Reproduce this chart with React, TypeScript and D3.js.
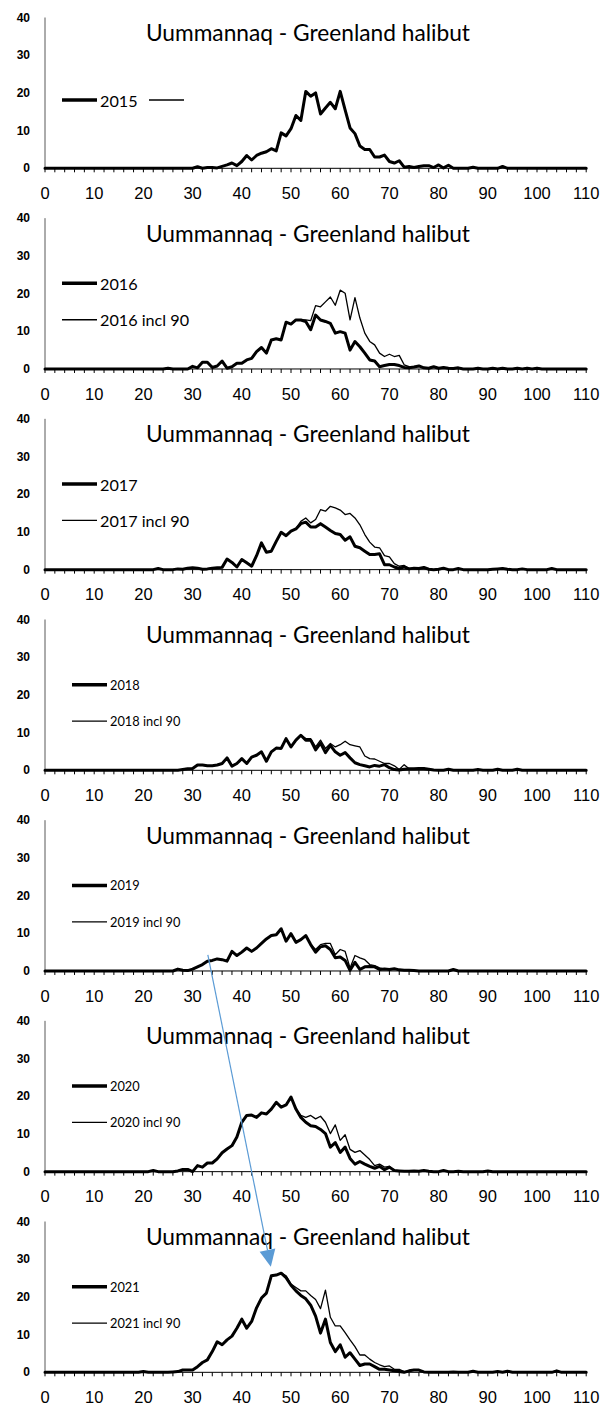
import * as d3 from 'd3';

// length classes (cm) in the arrays start at 20; anything outside is 0
const START = 20;

const years = ['2015', '2016', '2017', '2018', '2019', '2020', '2021'];
const titleText = 'Uummannaq - Greenland halibut';
const xTickLabels = [0, 10, 20, 30, 40, 50, 60, 70, 80, 90, 100, 110];
const yTickLabels = [0, 10, 20, 30, 40];

const s2015 = [
  0, 0, 0, 0, 0, 0, 0, 0, 0, 0,
  0, 0.4, 0, 0.2, 0.2, 0.1, 0.5, 0.9, 1.4, 0.7,
  1.8, 3.4, 2.2, 3.4, 4.0, 4.4, 5.2, 4.6, 9.4, 8.6,
  10.5, 14.0, 12.7, 20.4, 19.1, 20.0, 14.4, 16.0, 17.5, 15.8,
  20.4, 15.5, 10.7, 9.2, 5.9, 5.0, 5.0, 3.0, 3.0, 3.5,
  1.8, 1.4, 2.0, 0.3, 0.5, 0.2, 0.5, 0.7, 0.7, 0.2,
  0.9, 0.1, 0.8, 0, 0, 0, 0, 0.3, 0, 0,
  0, 0, 0, 0.5,
];

const s2016 = [
  0, 0, 0, 0, 0, 0.2, 0, 0, 0, 0,
  0.7, 0.3, 1.8, 1.8, 0.4, 0.8, 2.1, 0.2, 0.6, 1.5,
  1.5, 2.4, 2.8, 4.6, 5.7, 4.2, 7.7, 8.0, 7.7, 12.4,
  11.9, 13.0, 13.0, 12.6, 10.4, 14.3, 13.0, 12.6, 12.1, 9.5,
  9.9, 9.5, 5.0, 7.3, 5.9, 4.2, 2.4, 2.1, 0.6, 0.9,
  1.2, 1.2, 0.9, 0.4, 0.3, 0.5, 0.8, 0.3, 0.2, 0.6,
  0.2, 0.4, 0.2, 0.1, 0.3, 0, 0, 0, 0.2, 0,
  0, 0.2, 0, 0.2, 0, 0, 0.2, 0, 0.2, 0,
  0.2,
];
const s2016incl = [
  0, 0, 0, 0, 0, 0.2, 0, 0, 0, 0,
  0.7, 0.3, 1.8, 1.8, 0.4, 0.8, 2.1, 0.2, 0.6, 1.5,
  1.5, 2.4, 2.8, 4.6, 5.7, 4.2, 7.7, 8.0, 7.7, 12.4,
  11.9, 13.0, 13.0, 13.0, 12.8, 16.8, 16.5, 17.8, 19.1, 16.9,
  20.9, 20.1, 13.0, 18.9, 13.5, 9.5, 7.3, 6.4, 4.2, 3.3,
  3.9, 3.3, 3.6, 1.1, 0.6, 0.5, 0.8, 0.3, 0.2, 0.6,
  0.2, 0.4, 0.2, 0.1, 0.3, 0, 0, 0, 0.2, 0,
  0, 0.2, 0, 0.2, 0, 0, 0.2, 0, 0.2, 0,
  0.2,
];

const s2017 = [
  0, 0, 0, 0.3, 0, 0, 0, 0.2, 0.1, 0.4,
  0.5, 0.4, 0.1, 0.2, 0.4, 0.5, 0.6, 2.8, 1.9, 0.7,
  2.7, 1.8, 0.9, 3.7, 7.1, 4.6, 4.9, 7.5, 9.9, 9.0,
  10.2, 10.8, 12.2, 12.6, 11.3, 11.3, 12.2, 11.3, 10.4, 9.6,
  9.3, 7.8, 8.7, 6.2, 5.8, 4.9, 4.0, 4.0, 4.2, 1.3,
  1.3, 0.7, 0.3, 0.7, 0.2, 0.4, 0.3, 0.6, 0.1, 0,
  0.1, 0.4, 0, 0, 0.3, 0, 0, 0, 0, 0,
  0, 0.1, 0.2, 0.3, 0.1, 0, 0, 0.2, 0, 0,
  0, 0, 0, 0.3,
];
const s2017incl = [
  0, 0, 0, 0.3, 0, 0, 0, 0.2, 0.1, 0.4,
  0.5, 0.4, 0.1, 0.2, 0.4, 0.5, 0.6, 2.8, 1.9, 0.7,
  2.7, 1.8, 0.9, 3.7, 7.1, 4.6, 4.9, 7.5, 9.9, 9.0,
  10.2, 10.8, 12.8, 13.7, 12.4, 13.3, 15.9, 15.5, 16.8, 16.4,
  15.8, 14.6, 14.9, 13.7, 11.9, 9.3, 7.3, 6.0, 5.8, 3.7,
  3.4, 1.6, 0.9, 1.1, 0.3, 0.4, 0.3, 0.6, 0.1, 0,
  0.1, 0.4, 0, 0, 0.3, 0, 0, 0, 0, 0,
  0, 0.1, 0.2, 0.3, 0.1, 0, 0, 0.2, 0, 0,
  0, 0, 0, 0.3,
];

const s2018 = [
  0, 0, 0, 0, 0, 0, 0, 0, 0.2, 0.4,
  0.5, 1.4, 1.4, 1.2, 1.2, 1.4, 1.8, 3.3, 1.1, 1.8,
  3.1, 1.8, 3.5, 4.0, 4.9, 2.4, 4.9, 5.9, 5.8, 8.4,
  6.2, 8.0, 9.3, 8.0, 8.0, 5.4, 7.2, 4.7, 6.6, 4.9,
  4.0, 4.7, 3.3, 2.0, 1.5, 1.2, 0.9, 1.3, 1.1, 1.5,
  0.7, 0.2, 0.1, 0.3, 0.4, 0.4, 0.5, 0.5, 0.3, 0.1,
  0, 0, 0.3, 0, 0, 0, 0, 0, 0.2, 0,
  0, 0, 0.3, 0, 0, 0, 0.3,
];
const s2018incl = [
  0, 0, 0, 0, 0, 0, 0, 0, 0.2, 0.4,
  0.5, 1.4, 1.4, 1.2, 1.2, 1.4, 1.8, 3.3, 1.1, 1.8,
  3.1, 1.8, 3.5, 4.0, 4.9, 2.4, 4.9, 5.9, 5.8, 8.4,
  6.2, 8.0, 9.3, 8.4, 8.4, 6.2, 8.0, 5.8, 7.1, 6.2,
  6.8, 7.7, 6.8, 6.5, 6.2, 3.8, 3.1, 3.0, 2.4, 1.8,
  1.8, 1.2, 0.2, 1.5, 0.4, 0.4, 0.5, 0.5, 0.3, 0.1,
  0, 0, 0.3, 0, 0, 0, 0, 0, 0.2, 0,
  0, 0, 0.3, 0, 0, 0, 0.3,
];

const s2019 = [
  0, 0, 0, 0, 0, 0, 0, 0.5, 0.2, 0.1,
  0.5, 1.1, 1.7, 2.6, 2.8, 3.2, 3.0, 2.6, 5.2, 4.1,
  5.0, 6.1, 5.2, 6.1, 7.3, 8.5, 9.4, 9.6, 11.2, 7.9,
  9.9, 7.6, 8.3, 9.4, 7.0, 5.0, 6.4, 6.7, 5.7, 3.5,
  3.7, 2.8, 0.2, 2.3, 0.4, 1.1, 1.2, 1.1, 0.4, 0.5,
  0.4, 0.6, 0.3, 0.2, 0.2, 0.1, 0, 0, 0, 0,
  0, 0, 0, 0.4,
];
const s2019incl = [
  0, 0, 0, 0, 0, 0, 0, 0.5, 0.2, 0.1,
  0.5, 1.1, 1.7, 2.6, 2.8, 3.2, 3.0, 2.6, 5.2, 4.1,
  5.0, 6.1, 5.2, 6.1, 7.3, 8.5, 9.4, 9.6, 11.2, 7.9,
  9.9, 7.6, 8.3, 9.4, 7.0, 5.7, 7.0, 7.3, 7.3, 4.3,
  5.7, 5.2, 0.8, 4.1, 3.5, 3.0, 1.7, 1.4, 0.8, 0.5,
  0.4, 0.6, 0.3, 0.2, 0.2, 0.1, 0, 0, 0, 0,
  0, 0, 0, 0.4,
];

const s2020 = [
  0, 0, 0.3, 0, 0, 0, 0, 0.2, 0.6, 0.6,
  0, 1.6, 1.2, 2.3, 2.3, 3.4, 5.0, 6.0, 6.9, 9.2,
  13.1, 14.9, 15.0, 14.4, 15.6, 15.3, 16.6, 18.4, 17.1, 17.7,
  19.8, 16.6, 14.4, 13.1, 12.2, 12.0, 11.2, 10.1, 6.5, 7.7,
  5.1, 6.5, 3.5, 2.0, 2.7, 2.0, 1.4, 0.9, 1.4, 0.5,
  1.2, 0.3, 0.2, 0.1, 0.1, 0.2, 0.1, 0.3, 0.1, 0,
  0, 0.3, 0, 0, 0.1, 0, 0, 0, 0, 0,
  0.2,
];
const s2020incl = [
  0, 0, 0.3, 0, 0, 0, 0, 0.2, 0.6, 0.6,
  0, 1.6, 1.2, 2.3, 2.3, 3.4, 5.0, 6.0, 6.9, 9.2,
  13.1, 14.9, 15.0, 14.4, 15.6, 15.3, 16.6, 18.4, 17.1, 17.7,
  19.8, 16.6, 14.9, 14.4, 14.9, 14.0, 14.7, 13.1, 10.1, 12.4,
  8.3, 9.8, 5.9, 5.1, 5.6, 4.4, 3.2, 1.6, 2.0, 1.2,
  1.4, 0.3, 0.2, 0.1, 0.1, 0.2, 0.1, 0.3, 0.1, 0,
  0, 0.3, 0, 0, 0.1, 0, 0, 0, 0, 0,
  0.2,
];

const s2021 = [
  0.2, 0, 0, 0, 0, 0, 0.1, 0.2, 0.6, 0.6,
  0.6, 1.5, 2.6, 3.3, 5.5, 8.1, 7.3, 8.6, 9.6, 11.7,
  14.1, 11.7, 13.5, 17.1, 19.7, 21.0, 25.6, 25.8, 26.3, 25.1,
  23.1, 21.6, 20.4, 19.5, 17.8, 14.9, 10.4, 14.1, 7.9, 5.5,
  7.3, 4.0, 5.2, 3.5, 1.8, 2.2, 2.2, 1.5, 0.8, 0.8,
  0.6, 0.4, 0.2, 0, 0.4, 0.6, 0.6, 0.1, 0, 0,
  0, 0, 0, 0.1, 0, 0, 0, 0.3, 0, 0,
  0, 0, 0.2, 0, 0.3, 0, 0, 0, 0, 0,
  0, 0, 0, 0, 0.4,
];
const s2021incl = [
  0.2, 0, 0, 0, 0, 0, 0.1, 0.2, 0.6, 0.6,
  0.6, 1.5, 2.6, 3.3, 5.5, 8.1, 7.3, 8.6, 9.6, 11.7,
  14.1, 11.7, 13.5, 17.1, 19.7, 21.0, 25.6, 25.8, 26.3, 25.6,
  23.4, 22.5, 21.6, 21.6, 20.4, 19.3, 16.9, 21.8, 14.6, 12.3,
  12.3, 10.5, 8.6, 6.8, 4.6, 4.6, 3.5, 2.6, 2.0, 1.5,
  1.7, 0.8, 0.8, 0.2, 0.4, 0.6, 0.6, 0.1, 0, 0,
  0, 0, 0, 0.1, 0, 0, 0, 0.3, 0, 0,
  0, 0, 0.2, 0, 0.3, 0, 0, 0, 0, 0,
  0, 0, 0, 0, 0.4,
];

const mainSeries = [s2015, s2016, s2017, s2018, s2019, s2020, s2021];
// 2015 has an empty second series (only its legend line shows)
const inclSeries: (number[] | null)[] = [null, s2016incl, s2017incl, s2018incl, s2019incl, s2020incl, s2021incl];

// blue arrow annotation, in data units: from 2019 panel to 2021 panel
const arrowFrom = { panel: 4, len: 33.1, val: 4.3 };
const arrowTo = { panel: 6, len: 45.9, val: 28 };

const W = 604;
const H = 1408;
const PANEL_STEP = 200.67;
const ZERO0 = 168.3;

const x = d3.scaleLinear().domain([0, 110]).range([45, 586.2]);
const yScale = (i: number) => {
  const z = ZERO0 + i * PANEL_STEP;
  return d3.scaleLinear().domain([0, 40]).range([z, z - 150.8]);
};

const lengths = d3.range(0, 111);
const fullSeries = (arr: number[]) => lengths.map((l) => arr[l - START] ?? 0);

const labelFont = '"Liberation Sans", Arial, sans-serif';
const calFont = 'Lato, "Open Sans", sans-serif';

function Panel({ i }: { i: number }) {
  const y = yScale(i);
  const z = y(0);
  const line = d3
    .line<number>()
    .x((_, j) => x(lengths[j]))
    .y((v) => y(v));
  const big = i < 3;
  const legX0 = big ? 62 : 72;
  const legX1 = big ? 97 : 107;
  const legFont = big ? 16.2 : 12.8;
  const incl = inclSeries[i];

  return (
    <g>
      {/* y axis */}
      <line x1={x(0)} x2={x(0)} y1={y(0)} y2={y(40)} stroke="#595959" strokeWidth={1} />
      {yTickLabels.map((t) => (
        <text
          key={t}
          x={30}
          y={y(t)}
          textAnchor="end"
          dominantBaseline="central"
          fontFamily={labelFont}
          fontWeight="bold"
          fontSize={12}
          fill="#000"
        >
          {t}
        </text>
      ))}
      {/* x axis */}
      <line x1={x(0)} x2={x(110)} y1={z} y2={z} stroke="#000" strokeWidth={1} />
      {d3.range(0, 111, 2).map((t) => (
        <line key={t} x1={x(t)} x2={x(t)} y1={z} y2={z + 4} stroke="#000" strokeWidth={1} />
      ))}
      {xTickLabels.map((t) => (
        <text
          key={t}
          x={x(t)}
          y={z + 30.7}
          textAnchor="middle"
          fontFamily={labelFont}
          fontSize={16.5}
          fill="#000"
        >
          {t}
        </text>
      ))}
      {/* title */}
      <text
        x={146}
        y={z - 127.3}
        fontFamily={calFont}
        fontSize={23}
        textLength={324}
        lengthAdjust="spacingAndGlyphs"
        fill="#000"
      >
        {titleText}
      </text>
      {/* series */}
      <path
        d={line(fullSeries(mainSeries[i])) || ''}
        fill="none"
        stroke="#000"
        strokeWidth={3}
        strokeLinejoin="round"
        strokeLinecap="round"
      />
      {incl && (
        <path
          d={line(fullSeries(incl)) || ''}
          fill="none"
          stroke="#000"
          strokeWidth={1.3}
          strokeLinejoin="round"
        />
      )}
      {/* legend */}
      {i === 0 ? (
        <g>
          <line x1={legX0} x2={legX1} y1={z - 68.3} y2={z - 68.3} stroke="#000" strokeWidth={3.5} />
          <text x={100} y={z - 68.3} dominantBaseline="central" fontFamily={calFont} fontSize={legFont}>
            {years[i]}
          </text>
          <line x1={149} x2={184} y1={z - 68.3} y2={z - 68.3} stroke="#000" strokeWidth={1.3} />
        </g>
      ) : (
        <g>
          <line x1={legX0} x2={legX1} y1={z - 85.6} y2={z - 85.6} stroke="#000" strokeWidth={3.5} />
          <text x={legX1 + 3} y={z - 85.6} dominantBaseline="central" fontFamily={calFont} fontSize={legFont}>
            {years[i]}
          </text>
          <line x1={legX0} x2={legX1} y1={z - 49.2} y2={z - 49.2} stroke="#000" strokeWidth={1.3} />
          <text x={legX1 + 3} y={z - 49.2} dominantBaseline="central" fontFamily={calFont} fontSize={legFont}>
            {years[i] + ' incl 90'}
          </text>
        </g>
      )}
    </g>
  );
}

function Arrow() {
  const x1 = x(arrowFrom.len);
  const y1 = yScale(arrowFrom.panel)(arrowFrom.val);
  const x2 = x(arrowTo.len);
  const y2 = yScale(arrowTo.panel)(arrowTo.val);
  const dx = x2 - x1;
  const dy = y2 - y1;
  const len = Math.hypot(dx, dy);
  const ux = dx / len;
  const uy = dy / len;
  const headLen = 17;
  const headHalf = 8;
  const bx = x2 - ux * headLen;
  const by = y2 - uy * headLen;
  const pts = [
    [x2, y2],
    [bx - uy * headHalf, by + ux * headHalf],
    [bx + uy * headHalf, by - ux * headHalf],
  ]
    .map((p) => p.join(','))
    .join(' ');
  return (
    <g>
      <line x1={x1} y1={y1} x2={bx} y2={by} stroke="#5B9BD5" strokeWidth={1.2} />
      <polygon points={pts} fill="#5B9BD5" />
    </g>
  );
}

export default function App() {
  return (
    <svg
      width={W}
      height={H}
      viewBox={`0 0 ${W} ${H}`}
      style={{ position: 'absolute', left: 0, top: 0, background: '#fff' }}
    >
      <rect width={W} height={H} fill="#fff" />
      {years.map((_, i) => (
        <Panel key={i} i={i} />
      ))}
      <Arrow />
    </svg>
  );
}
